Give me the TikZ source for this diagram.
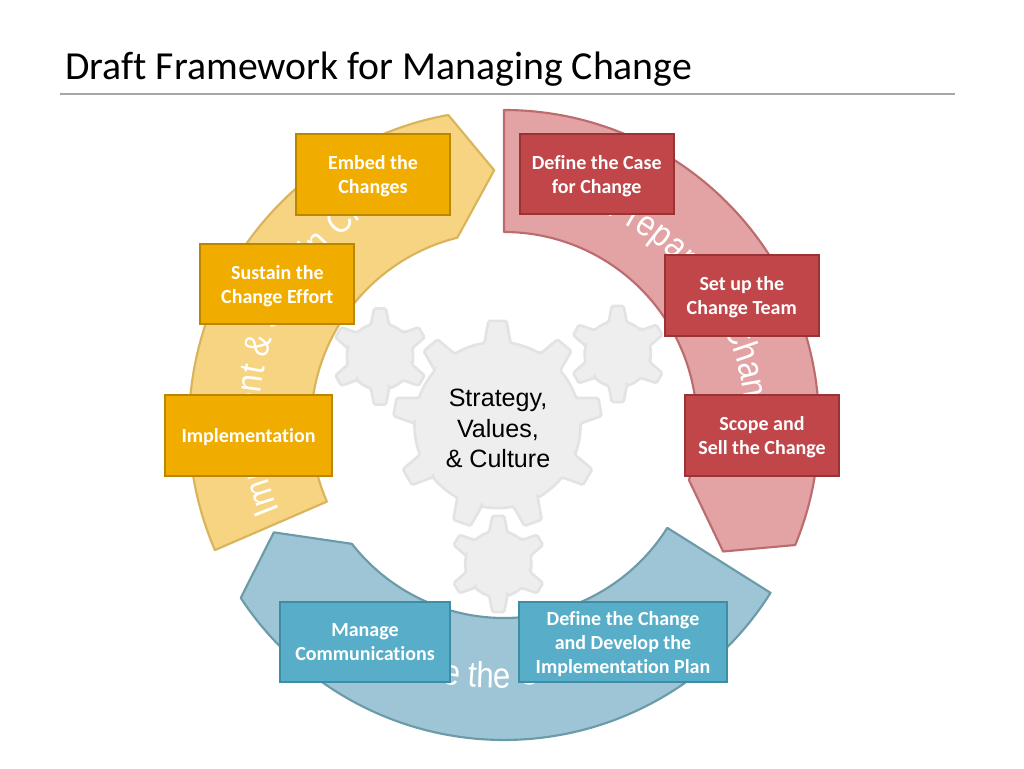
\documentclass[tikz,border=0pt]{standalone}
\usepackage{fontspec}
\setmainfont{Carlito}[RawFeature={-liga}]
\newfontfamily\armfont[FakeStretch=0.87]{Liberation Sans}
\newfontfamily\corefont{Liberation Sans}
\usetikzlibrary{decorations.text}
\definecolor{yelband}{HTML}{F7D481}
\definecolor{yeledge}{HTML}{D9B45C}
\definecolor{yelbox}{HTML}{F0AD00}
\definecolor{yelboxedge}{HTML}{B98800}
\definecolor{redband}{HTML}{E3A2A3}
\definecolor{rededge}{HTML}{BC6B6E}
\definecolor{redbox}{HTML}{C0464A}
\definecolor{redboxedge}{HTML}{993335}
\definecolor{bluband}{HTML}{9DC5D5}
\definecolor{bluedge}{HTML}{6B9AA8}
\definecolor{blubox}{HTML}{58AEC8}
\definecolor{bluboxedge}{HTML}{3E8DA5}
\tikzset{
  arm/.style={line width=1.6pt, line join=round},
  stepbox/.style={draw, line width=1.5pt, text=white, align=center, inner sep=0pt,
    minimum width=115.5pt, minimum height=60.5pt,
    font=\fontsize{15}{18}\selectfont\bfseries, text depth=-4pt},
  yelstep/.style={stepbox, fill=yelbox, draw=yelboxedge},
  redstep/.style={stepbox, fill=redbox, draw=redboxedge},
  blustep/.style={stepbox, fill=blubox, draw=bluboxedge},
  cog/.style={fill=black!6.5, draw=black!11, line width=2pt, rounded corners=1.2pt},
}
\begin{document}
\begin{tikzpicture}[x=0.75pt,y=0.75pt]
  \useasboundingbox (0,0) rectangle (1024,768);
  \coordinate (hub) at (504,343);
  % title
  \node[anchor=base west, inner sep=0pt, font=\fontsize{29.8}{30}\selectfont] (title) at (65,688.5) {Draft Framework for Managing Change};
  \coordinate (ruleL) at (60,674);
  \coordinate (ruleR) at (955,674);
  \draw[black!35, line width=2.2pt] (ruleL) -- (ruleR);
  % the three bands
  \draw[arm, fill=redband, draw=rededge] ([shift={(hub)}]90:315) arc[start angle=90, end angle=-22.4, radius=315]
    -- ([shift={(hub)}]-30:253) -- ([shift={(hub)}]-16.6:193) arc[start angle=-16.6, end angle=90, radius=193] -- cycle;
  \draw[arm, fill=yelband, draw=yeledge] ([shift={(hub)}]203.4:315) arc[start angle=203.4, end angle=100.2, radius=315]
    -- ([shift={(hub)}]92.2:255) -- ([shift={(hub)}]104:193) arc[start angle=104, end angle=203.4, radius=193] -- cycle;
  \draw[arm, fill=bluband, draw=bluedge] ([shift={(hub)}]-32.2:315) arc[start angle=-32.2, end angle=-146.7, radius=315]
    -- ([shift={(hub)}]205:254) -- ([shift={(hub)}]218:193) arc[start angle=218, end angle=327.8, radius=193] -- cycle;
  % words along the bands
  \path[decorate, decoration={text along path, text color=white,
    text={|\armfont\fontsize{27}{27}\selectfont|Prepare for Change}}]
    ([shift={(509.3,335.8)}]66:238) arc[start angle=66, end angle=-22, radius=238];
  \path[decorate, decoration={text along path, text color=white,
    text={|\armfont\fontsize{27}{27}\selectfont|Implement {\&} Sustain Change}}]
    ([shift={(501.8,352)}]203:242) arc[start angle=203, end angle=85, radius=242];
  \path[decorate, decoration={text along path, text color=white,
    text={|\armfont\fontsize{27}{27}\selectfont|Drive the Change}}]
    ([shift={(492,343)}]246.8:263) arc[start angle=246.8, end angle=318, radius=263];
  % big gear, nine teeth
  \draw[cog] ([shift={(497.5,343)}]99:83)
    foreach \a in {90,50,...,-230}{
      -- ([shift={(497.5,343)}]\a+9:83) -- ([shift={(497.5,343)}]\a+5:104.5)
      -- ([shift={(497.5,343)}]\a-5:104.5) -- ([shift={(497.5,343)}]\a-9:83)
      arc[start angle=\a-9, end angle=\a-31, radius=83]
    } -- cycle;
  % small gears, six teeth
  \foreach \x/\y in {380/411.5, 617.7/414, 498.3/204}{
    \draw[cog] ([shift={(\x,\y)}]106:33)
      foreach \a in {90,30,...,-210}{
        -- ([shift={(\x,\y)}]\a+16:33) -- ([shift={(\x,\y)}]\a+7:48.5)
        -- ([shift={(\x,\y)}]\a-7:48.5) -- ([shift={(\x,\y)}]\a-16:33)
        arc[start angle=\a-16, end angle=\a-44, radius=33]
      } -- cycle;
  }
  \node[font=\corefont\fontsize{18.8}{23}\selectfont, align=center] (core) at (498,339.5) {Strategy,\\Values,\\\& Culture};
  % step boxes
  \node[yelstep] (embed) at (373,593.5) {Embed the\\Changes};
  \node[yelstep] (sustain) at (277.3,484) {Sustain the\\Change Effort};
  \node[yelstep, minimum width=125pt] (implement) at (248.5,332.5) {Implementation};
  \node[redstep] (casedef) at (596.7,594) {Define the Case\\for Change};
  \node[redstep] (team) at (741.8,472.7) {Set up the\\Change Team};
  \node[redstep] (scope) at (762,332.5) {Scope and\\Sell the Change};
  \node[blustep, minimum width=127.5pt] (comms) at (365,126) {Manage\\Communications};
  \node[blustep, minimum width=155.5pt] (plan) at (623,126) {Define the Change\\and Develop the\\Implementation Plan};
\end{tikzpicture}
\end{document}
